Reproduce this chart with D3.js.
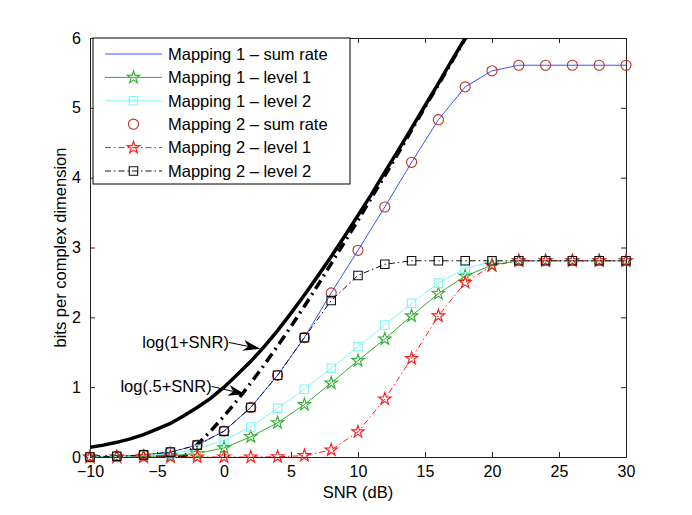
<!DOCTYPE html>
<html>
<head>
<meta charset="utf-8">
<script src="https://cdn.jsdelivr.net/npm/d3@7/dist/d3.min.js"></script>
<style>
  html, body { margin: 0; padding: 0; background: #fff; }
  svg text { font-family: "Liberation Sans", Arial, sans-serif; fill: #000; }
</style>
</head>
<body>
<svg width="692" height="515"></svg>
<script>
// values
const snrDb = [-10, -8, -6, -4, -2, 0, 2, 4, 6, 8, 10, 12, 14, 16, 18, 20, 22, 24, 26, 28, 30];
const m1Sum = [0, 0.01, 0.03, 0.07, 0.17, 0.37, 0.71, 1.17, 1.71, 2.35, 2.96, 3.58, 4.22, 4.83, 5.30, 5.53, 5.61, 5.61, 5.61, 5.61, 5.61];
const m1Lev1 = [0, 0.003, 0.01, 0.02, 0.05, 0.13, 0.29, 0.49, 0.75, 1.06, 1.38, 1.69, 2.02, 2.34, 2.59, 2.75, 2.81, 2.81, 2.81, 2.81, 2.81];
const m1Lev2 = [0, 0.005, 0.02, 0.045, 0.11, 0.24, 0.43, 0.70, 0.97, 1.27, 1.58, 1.89, 2.20, 2.49, 2.70, 2.80, 2.81, 2.81, 2.81, 2.81, 2.81];
const m2Sum = [0, 0.01, 0.03, 0.07, 0.17, 0.37, 0.71, 1.17, 1.71, 2.35, 2.96, 3.58, 4.22, 4.83, 5.30, 5.53, 5.61, 5.61, 5.61, 5.61, 5.61];
const m2Lev1 = [0, 0, 0, 0, 0, 0, 0, 0.003, 0.02, 0.10, 0.36, 0.83, 1.41, 2.02, 2.50, 2.74, 2.81, 2.81, 2.81, 2.81, 2.81];
const m2Lev2 = [0, 0.01, 0.03, 0.07, 0.17, 0.37, 0.71, 1.17, 1.71, 2.24, 2.60, 2.76, 2.81, 2.81, 2.81, 2.81, 2.81, 2.81, 2.81, 2.81, 2.81];

const boundSnr = [-10, -9, -8, -7, -6, -5, -4, -3, -2, -1, 0, 1, 2, 3, 4, 5, 6, 7, 8, 9, 10, 11, 12, 13, 14, 15, 16, 17, 18, 19];
const logOne = [0.14, 0.17, 0.21, 0.26, 0.32, 0.40, 0.48, 0.59, 0.71, 0.84, 1.00, 1.18, 1.37, 1.58, 1.81, 2.06, 2.32, 2.59, 2.87, 3.16, 3.46, 3.76, 4.08, 4.39, 4.71, 5.03, 5.35, 5.68, 6.00, 6.33];
const logHalf = [0, 0, 0, 0, 0, 0, 0, 0, 0.18, 0.37, 0.585, 0.815, 1.06, 1.32, 1.59, 1.87, 2.16, 2.46, 2.77, 3.08, 3.39, 3.71, 4.03, 4.35, 4.68, 5.01, 5.33, 5.66, 5.99, 6.32];

const xTicks = [-10, -5, 0, 5, 10, 15, 20, 25, 30];
const yTicks = [0, 1, 2, 3, 4, 5, 6];
const legendLabels = ["Mapping 1 \u2013 sum rate", "Mapping 1 \u2013 level 1", "Mapping 1 \u2013 level 2",
  "Mapping 2 \u2013 sum rate", "Mapping 2 \u2013 level 1", "Mapping 2 \u2013 level 2"];

const svg = d3.select("svg");
const margin = { top: 38, right: 66, bottom: 58, left: 90 };
const innerWidth = +svg.attr("width") - margin.left - margin.right;
const innerHeight = +svg.attr("height") - margin.top - margin.bottom;

const xScale = d3.scaleLinear().domain([-10, 30]).range([0, innerWidth]);
const yScale = d3.scaleLinear().domain([0, 6]).range([innerHeight, 0]);

const g = svg.append("g").attr("transform", `translate(${margin.left},${margin.top})`);

g.append("clipPath").attr("id", "plotClip")
  .append("rect").attr("width", innerWidth).attr("height", innerHeight);

// axes, ticks inside like matlab
const fontSize = "16px";
const xAxis = g.append("g").attr("transform", `translate(0,${innerHeight})`)
  .call(d3.axisBottom(xScale).tickValues(xTicks).tickSizeInner(-5).tickSizeOuter(0).tickPadding(9)
    .tickFormat((d) => (d < 0 ? "\u2212" + Math.abs(d) : d)));
const yAxis = g.append("g")
  .call(d3.axisLeft(yScale).tickValues(yTicks).tickSizeInner(-5).tickSizeOuter(0).tickPadding(9)
    .tickFormat(d3.format("d")));
const xTop = g.append("g")
  .call(d3.axisTop(xScale).tickValues(xTicks).tickSizeInner(-5).tickSizeOuter(0).tickFormat(""));
const yRight = g.append("g").attr("transform", `translate(${innerWidth},0)`)
  .call(d3.axisRight(yScale).tickValues(yTicks).tickSizeInner(-5).tickSizeOuter(0).tickFormat(""));
[xAxis, yAxis, xTop, yRight].forEach((a) => {
  a.selectAll("path").attr("stroke", "#222");
  a.selectAll("line").attr("stroke", "#222");
  a.selectAll("text").style("font-size", fontSize);
});

g.append("text")
  .attr("x", innerWidth / 2).attr("y", innerHeight + 41)
  .attr("text-anchor", "middle").style("font-size", "16.5px")
  .text("SNR (dB)");
g.append("text")
  .attr("transform", `translate(${-30},${innerHeight / 2}) rotate(-90)`)
  .attr("text-anchor", "middle").attr("dy", "0.35em").style("font-size", "16.5px")
  .text("bits per complex dimension");

const plot = g.append("g").attr("clip-path", "url(#plotClip)");

const series = [
  { name: legendLabels[0], y: m1Sum, color: "#3355ff", dash: null, width: 1, marker: null },
  { name: legendLabels[1], y: m1Lev1, color: "#2fae2f", dash: null, width: 1, marker: "star" },
  { name: legendLabels[2], y: m1Lev2, color: "#7ff6f6", dash: null, width: 1, marker: "square" },
  { name: legendLabels[3], y: m2Sum, color: "#b8322a", dash: null, width: 0, marker: "circle" },
  { name: legendLabels[4], y: m2Lev1, color: "#ff1a1a", dash: "6,3,1.5,3", width: 1, marker: "star" },
  { name: legendLabels[5], y: m2Lev2, color: "#111", dash: "6,3,1.5,3", width: 1, marker: "square" },
];

const symbols = {
  star: d3.symbol(d3.symbolStar, 48),
  square: d3.symbol(d3.symbolSquare, 72),
  circle: d3.symbol(d3.symbolCircle, 80),
};

// bounds
const boundLine = d3.line().x((d) => xScale(d[0])).y((d) => yScale(d[1]));
plot.append("path")
  .datum(d3.zip(boundSnr, logOne))
  .attr("d", boundLine)
  .attr("fill", "none").attr("stroke", "#000").attr("stroke-width", 3.5);
plot.append("path")
  .datum(d3.zip(boundSnr, logHalf))
  .attr("d", boundLine)
  .attr("fill", "none").attr("stroke", "#000").attr("stroke-width", 3.5)
  .attr("stroke-dasharray", "10,5,2,5");

const line = d3.line().x((d) => xScale(d[0])).y((d) => yScale(d[1]));
series.forEach((s) => {
  const pts = d3.zip(snrDb, s.y);
  if (s.width > 0) {
    plot.append("path").datum(pts).attr("d", line)
      .attr("fill", "none").attr("stroke", s.color).attr("stroke-width", s.width)
      .attr("stroke-dasharray", s.dash);
  }
  if (s.marker) {
    g.append("g").selectAll("path").data(pts).enter().append("path")
      .attr("transform", (d) => `translate(${xScale(d[0])},${yScale(d[1])})`)
      .attr("d", symbols[s.marker])
      .attr("fill", "none").attr("stroke", s.color).attr("stroke-width", 1.1);
  }
});

// annotations with arrows, placed in data units
const notes = [
  { text: "log(1+SNR)", at: [0.37, 1.64], tip: [2.69, 1.55] },
  { text: "log(.5+SNR)", at: [-0.92, 1.01], tip: [1.57, 0.9] },
];
notes.forEach((n) => {
  const x0 = xScale(n.at[0]), y0 = yScale(n.at[1]);
  const x1 = xScale(n.tip[0]), y1 = yScale(n.tip[1]);
  g.append("text").attr("x", x0).attr("y", y0).attr("dy", "0.35em")
    .attr("text-anchor", "end").style("font-size", "16.5px").text(n.text);
  const ang = Math.atan2(y1 - y0, x1 - x0);
  const len = 17, half = 5.5, notch = 5;
  const rot = (px, py) => [x1 + px * Math.cos(ang) - py * Math.sin(ang), y1 + px * Math.sin(ang) + py * Math.cos(ang)];
  g.append("line").attr("x1", x0).attr("y1", y0).attr("x2", rot(-len + notch, 0)[0]).attr("y2", rot(-len + notch, 0)[1])
    .attr("stroke", "#000").attr("stroke-width", 1);
  g.append("path")
    .attr("d", "M" + [rot(0, 0), rot(-len, -half), rot(-len + notch, 0), rot(-len, half)].map((p) => p.join(",")).join("L") + "Z")
    .attr("fill", "#000");
});

// legend
const legend = g.append("g").attr("transform", "translate(3,0)");
legend.append("rect").attr("width", 257).attr("height", 146)
  .attr("fill", "#fff").attr("stroke", "#000").attr("stroke-width", 1);
series.forEach((s, i) => {
  const row = legend.append("g").attr("transform", `translate(0,${16 + i * 23.4})`);
  if (s.width > 0) {
    row.append("line").attr("x1", 12).attr("x2", 69).attr("y1", 0).attr("y2", 0)
      .attr("stroke", s.color).attr("stroke-width", s.width).attr("stroke-dasharray", s.dash);
  }
  if (s.marker) {
    row.append("path").attr("transform", "translate(40.5,0)").attr("d", symbols[s.marker])
      .attr("fill", "none").attr("stroke", s.color).attr("stroke-width", 1.1);
  }
  row.append("text").attr("x", 75).attr("dy", "0.35em").style("font-size", "16.5px").text(s.name);
});
</script>
</body>
</html>
